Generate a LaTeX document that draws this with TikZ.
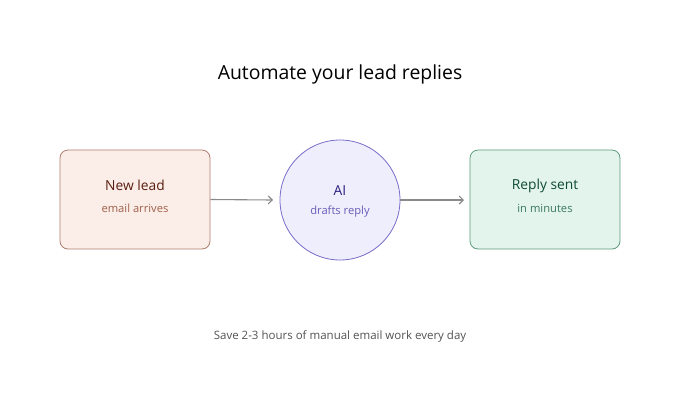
\documentclass[tikz,border=0pt]{standalone}
\usepackage{fontspec}
\setmainfont{Open Sans}
\usetikzlibrary{arrows.meta}
\definecolor{redfill}{HTML}{FBEEE8}
\definecolor{redline}{HTML}{B07D6E}
\definecolor{redtitle}{HTML}{5A1E10}
\definecolor{redsub}{HTML}{A0604A}
\definecolor{purfill}{HTML}{EFEEFC}
\definecolor{purline}{HTML}{7A6CC8}
\definecolor{purtitle}{HTML}{2A2080}
\definecolor{pursub}{HTML}{6A5CB8}
\definecolor{grnfill}{HTML}{E2F4EC}
\definecolor{grnline}{HTML}{5E9C80}
\definecolor{grntitle}{HTML}{0E4A32}
\definecolor{grnsub}{HTML}{3C7A5E}
\definecolor{arrowgray}{HTML}{8A8A8A}
\tikzset{
  card/.style={rounded corners=8pt, line width=0.8pt, minimum width=150pt, minimum height=99pt},
  blob/.style={circle, line width=0.8pt, minimum size=120pt, inner sep=0pt},
  ttl/.style={font=\fontsize{13.8}{15}\selectfont, inner sep=0pt},
  sub/.style={font=\fontsize{11.2}{13}\selectfont, inner sep=0pt},
  flow/.style={draw=arrowgray, line width=1.1pt, -{Straight Barb[length=4pt,width=8pt]}},
}
\begin{document}
\begin{tikzpicture}[x=1pt,y=-1pt]
\useasboundingbox (0,0) rectangle (680,400);
\node[ttl, font=\fontsize{19.4}{22}\selectfont] (title) at (340,74) {Automate your lead replies};
\node[card, draw=redline, fill=redfill] (lead) at (135,199.5) {};
\node[ttl, text=redtitle] (leadt) at (135,185.5) {New lead};
\node[sub, text=redsub] (leads) at (135,208) {email arrives};
\node[blob, draw=purline, fill=purfill] (ai) at (340,200) {};
\node[ttl, text=purtitle] (ait) at (340,191) {AI};
\node[sub, text=pursub] (ais) at (340,212) {drafts reply};
\node[card, draw=grnline, fill=grnfill] (sent) at (545,199.5) {};
\node[ttl, text=grntitle] (sentt) at (545,185.5) {Reply sent};
\node[sub, text=grnsub] (sents) at (545,208) {in minutes};
\coordinate (a1) at (273,200);
\coordinate (a2) at (464,200);
\draw[flow] (lead.east) -- (a1);
\draw[flow] (ai.east) -- (a2);
\node[sub, font=\fontsize{11.5}{13}\selectfont, text=black!68] (foot) at (340,336) {Save 2-3 hours of manual email work every day};
\end{tikzpicture}
\end{document}
